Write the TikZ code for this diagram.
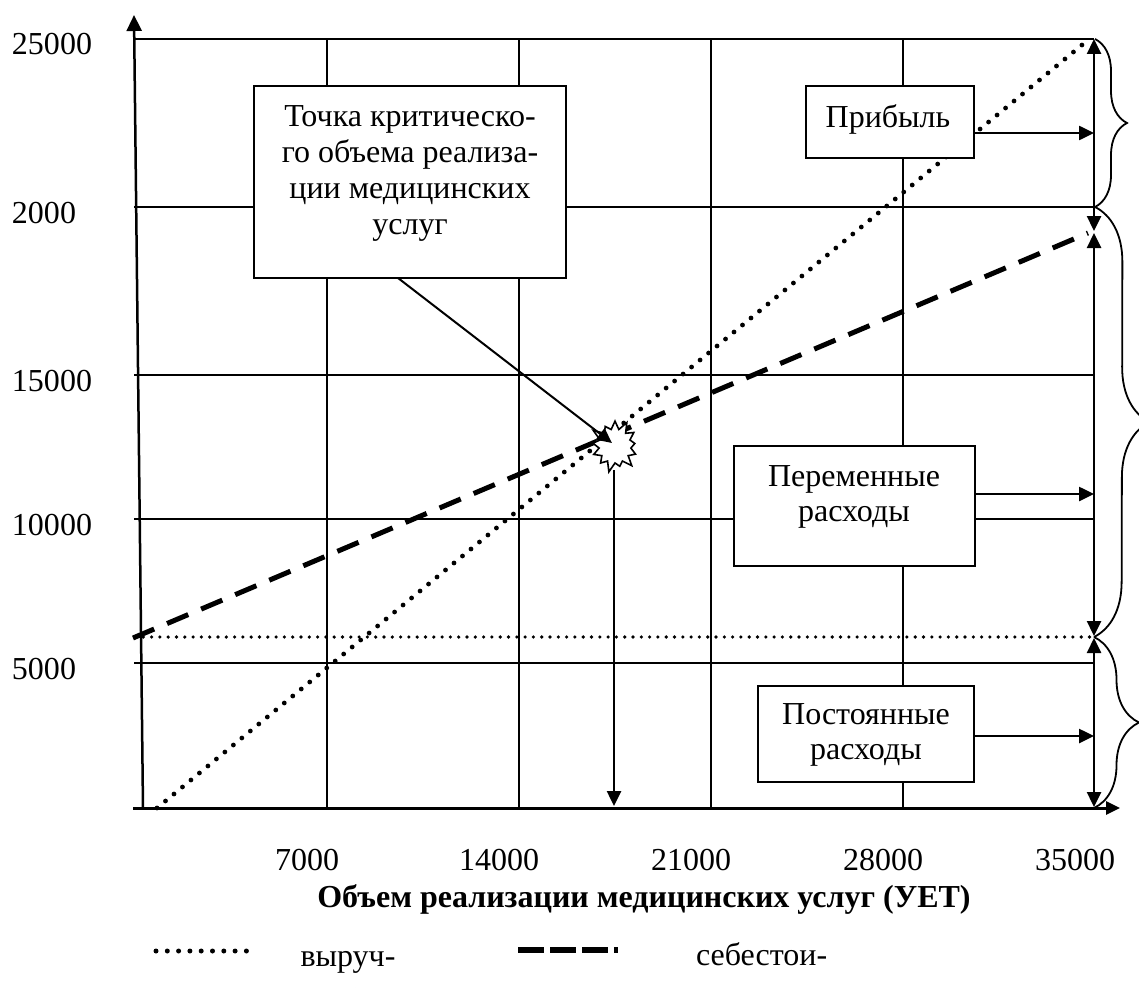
\documentclass[tikz,border=0pt]{standalone}
\usepackage{fontspec}
\setmainfont{Liberation Serif}
\usetikzlibrary{arrows.meta,shapes.symbols,decorations.pathreplacing}
\begin{document}
\begin{tikzpicture}[x=1pt,y=-1pt,
  txt/.style={font=\fontsize{32}{36}\selectfont, inner sep=0pt, outer sep=0pt},
  txtb/.style={font=\fontsize{32}{35}\selectfont, inner sep=0pt, outer sep=0pt},
  gridline/.style={line width=1.8pt},
  box/.style={draw, line width=1.8pt, fill=white, inner sep=0pt},
  tip/.style={-{Triangle[length=15pt,width=14pt]}},
  dtip/.style={{Triangle[length=15pt,width=14pt]}-{Triangle[length=15pt,width=14pt]}},
  brc/.style={decorate, decoration={brace, amplitude=#1}, line width=1.8pt},
  revenue/.style={line width=4.8pt, line cap=round, dash pattern=on 0pt off 11pt},
  cost/.style={line width=5pt, dash pattern=on 23pt off 14pt},
  fixedline/.style={line width=3.6pt, line cap=round, dash pattern=on 0pt off 8.3pt},
]
\useasboundingbox (0,0) rectangle (1139,987);
% grid
\foreach \y in {39,207,375,519,663} \draw[gridline] (134,\y) -- (1094,\y);
\foreach \x in {327,519,711,903} \draw[gridline] (\x,39) -- (\x,808);
% axes
\coordinate (o) at (143,808);
\coordinate (ytop) at (134,15);
\coordinate (xstart) at (133,808);
\coordinate (xend) at (1120,808);
\draw[line width=2.5pt, -{Triangle[length=16pt,width=15pt]}] (o) -- (ytop);
\draw[line width=3pt, -{Triangle[length=14pt,width=13pt]}] (xstart) -- (xend);
% y labels
\node[txt, anchor=base west] (y25) at (12,55) {25000};
\node[txt, anchor=base west] (y20) at (12,223) {2000};
\node[txt, anchor=base west] (y15) at (12,391) {15000};
\node[txt, anchor=base west] (y10) at (12,535) {10000};
\node[txt, anchor=base west] (y5) at (12,679) {5000};
% x labels
\node[txt, anchor=base] (x7) at (307,870) {7000};
\node[txt, anchor=base] (x14) at (499,870) {14000};
\node[txt, anchor=base] (x21) at (691,870) {21000};
\node[txt, anchor=base] (x28) at (883,870) {28000};
\node[txt, anchor=base] (x35) at (1075,870) {35000};
\node[txt, anchor=base, font=\fontsize{32}{36}\selectfont\bfseries] (xt) at (644,907) {Объем реализации медицинских услуг (УЕТ)};
% lines
\coordinate (rv0) at (157,808);
\coordinate (rv1) at (1088,40);
\coordinate (c0) at (133,638);
\coordinate (c1) at (1088,233);
\coordinate (f0) at (135,637);
\coordinate (f1) at (1090,637);
\draw[revenue] (rv0) -- (rv1);
\draw[cost] (c0) -- (c1);
\draw[fixedline] (f0) -- (f1);
% right double arrows
\coordinate (r0) at (1094,39);
\coordinate (r1) at (1094,231);
\coordinate (r2) at (1094,233);
\coordinate (r3) at (1094,636);
\coordinate (r4) at (1094,638);
\coordinate (r5) at (1094,807);
\draw[line width=2.5pt, dtip] (r0) -- (r1);
\draw[line width=2.5pt, dtip] (r2) -- (r3);
\draw[line width=2.5pt, dtip] (r4) -- (r5);
% braces
\coordinate (b0) at (1095,39);
\coordinate (b1) at (1095,207);
\coordinate (b2) at (1094,637);
\coordinate (b3) at (1094,808);
\draw[brc=32pt] (b0) -- (b1);
\draw[brc=55pt] (b1) -- (b2);
\draw[brc=45pt] (b2) -- (b3);
% boxes
\node[box, minimum width=312pt, minimum height=192pt] (tk) at (410,182) {};
\node[txt, align=center, anchor=north] (tkt) at (410,106) {Точка критическо-\\го объема реализа-\\ции медицинских\\услуг};
\node[box, minimum width=168pt, minimum height=72pt] (pr) at (890,122) {};
\node[txt, anchor=base] (prt) at (888,128) {Прибыль};
\node[box, minimum width=241pt, minimum height=120pt] (pv) at (854.5,506) {};
\node[txtb, align=center, anchor=north] (pvt) at (854,466) {Переменные\\расходы};
\node[box, minimum width=216pt, minimum height=96pt] (pc) at (866,734) {};
\node[txtb, align=center, anchor=north] (pct) at (866,704) {Постоянные\\расходы};
% box arrows
\coordinate (prA) at (974,133);
\coordinate (prB) at (1094,133);
\coordinate (pvA) at (975,494);
\coordinate (pvB) at (1094,494);
\coordinate (pcA) at (974,736);
\coordinate (pcB) at (1094,736);
\draw[line width=2.5pt, tip] (prA) -- (prB);
\draw[line width=2.5pt, tip] (pvA) -- (pvB);
\draw[line width=2.5pt, tip] (pcA) -- (pcB);
% critical point
\node[starburst, draw, fill=white, line width=1.6pt, minimum width=54pt, minimum height=56pt, inner sep=0pt, starburst points=13, starburst point height=11pt] (star) at (615,446) {};
\coordinate (tkA) at (398,278);
\coordinate (starTip) at (612,443);
\draw[line width=2pt, tip] (tkA) -- (starTip);
\coordinate (sB) at (614,470);
\coordinate (sE) at (614,806);
\draw[line width=2.5pt, tip] (sB) -- (sE);
% legend
\coordinate (l0) at (156,951);
\coordinate (l1) at (248,951);
\coordinate (l2) at (518,950);
\coordinate (l3) at (618,950);
\draw[line width=5pt, line cap=round, dash pattern=on 0pt off 11.3pt] (l0) -- (l1);
\draw[line width=6pt, dash pattern=on 26pt off 6pt] (l2) -- (l3);
\node[txt, align=center, anchor=north, font=\fontsize{32}{37}\selectfont] (lv) at (348,951) {выруч-\\ка};
\node[txt, anchor=base west] (ls) at (696,965) {себестои-};
\end{tikzpicture}
\end{document}
